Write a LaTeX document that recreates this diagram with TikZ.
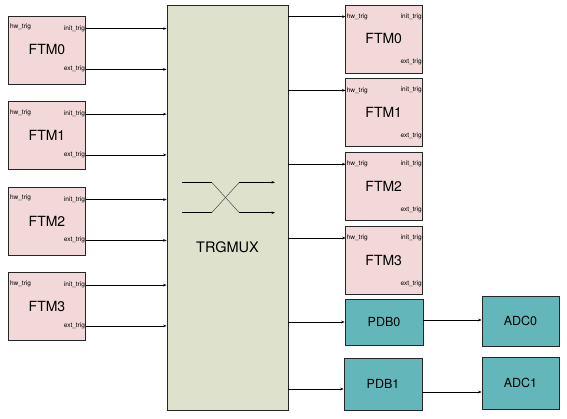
\documentclass[tikz,border=0pt]{standalone}
\usepackage{fontspec}
\setmainfont{TeX Gyre Heros}
\usepackage{xcolor}
\usetikzlibrary{arrows.meta, positioning}

\definecolor{ftmpink}{RGB}{242,216,216}
\definecolor{muxgreen}{RGB}{222,226,204}
\definecolor{pdbteal}{RGB}{99,182,185}

\begin{document}
\begin{tikzpicture}[
        x=1pt, y=-1pt,
        ftm/.style={
            draw=black!85,
            line width=0.8pt,
            fill=ftmpink,
            minimum width=77.5pt,
            minimum height=68pt,
            inner sep=0pt,
            font=\fontsize{14}{15}\selectfont
        },
        unit/.style={
            draw=black!85,
            line width=0.8pt,
            fill=pdbteal,
            minimum width=78pt,
            inner sep=0pt,
            font=\fontsize{12.5}{14}\selectfont
        },
        port/.style={inner sep=1pt, font=\fontsize{6.5}{7}\selectfont},
        arrow/.style={-{Stealth[length=3.5pt, width=2.6pt]}, line width=0.7pt}
    ]
        \useasboundingbox (0,0) rectangle (567,419);

        % trigger multiplexer
        \node[draw=black!85, line width=0.8pt, fill=muxgreen, minimum width=121pt, minimum height=405pt] (mux) at (227.5,207.5) {};
        \node[font=\fontsize{14.5}{16}\selectfont] (muxtext) at ([yshift=-39.5pt]mux.center) {TRGMUX};

        % source timers
        \node[ftm] (ftmL0) at (47,50) {FTM0};
        \node[ftm, below=16.7pt of ftmL0] (ftmL1) {FTM1};
        \node[ftm, below=16.7pt of ftmL1] (ftmL2) {FTM2};
        \node[ftm, below=16.7pt of ftmL2] (ftmL3) {FTM3};

        \node[port, anchor=west] (l0hw) at ([shift={(1pt,-11.5pt)}]ftmL0.north west) {hw\_trig};
        \node[port, anchor=east] (l0init) at ([shift={(0pt,-13pt)}]ftmL0.north east) {init\_trig};
        \node[port, anchor=east] (l0ext) at ([shift={(0pt,15pt)}]ftmL0.south east) {ext\_trig};
        \node[port, anchor=west] (l1hw) at ([shift={(1pt,-11.5pt)}]ftmL1.north west) {hw\_trig};
        \node[port, anchor=east] (l1init) at ([shift={(0pt,-13pt)}]ftmL1.north east) {init\_trig};
        \node[port, anchor=east] (l1ext) at ([shift={(0pt,15pt)}]ftmL1.south east) {ext\_trig};
        \node[port, anchor=west] (l2hw) at ([shift={(1pt,-11.5pt)}]ftmL2.north west) {hw\_trig};
        \node[port, anchor=east] (l2init) at ([shift={(0pt,-13pt)}]ftmL2.north east) {init\_trig};
        \node[port, anchor=east] (l2ext) at ([shift={(0pt,15pt)}]ftmL2.south east) {ext\_trig};
        \node[port, anchor=west] (l3hw) at ([shift={(1pt,-11.5pt)}]ftmL3.north west) {hw\_trig};
        \node[port, anchor=east] (l3init) at ([shift={(0pt,-13pt)}]ftmL3.north east) {init\_trig};
        \node[port, anchor=east] (l3ext) at ([shift={(0pt,15pt)}]ftmL3.south east) {ext\_trig};

        % target timers
        \node[ftm] (ftmR0) at (383.75,39) {FTM0};
        \node[ftm, below=5pt of ftmR0] (ftmR1) {FTM1};
        \node[ftm, below=5pt of ftmR1] (ftmR2) {FTM2};
        \node[ftm, below=5pt of ftmR2] (ftmR3) {FTM3};

        \node[port, anchor=west] (r0hw) at ([shift={(1pt,-12pt)}]ftmR0.north west) {hw\_trig};
        \node[port, anchor=east] (r0init) at ([shift={(0pt,-12pt)}]ftmR0.north east) {init\_trig};
        \node[port, anchor=east] (r0ext) at ([shift={(0pt,11pt)}]ftmR0.south east) {ext\_trig};
        \node[port, anchor=west] (r1hw) at ([shift={(1pt,-12pt)}]ftmR1.north west) {hw\_trig};
        \node[port, anchor=east] (r1init) at ([shift={(0pt,-12pt)}]ftmR1.north east) {init\_trig};
        \node[port, anchor=east] (r1ext) at ([shift={(0pt,11pt)}]ftmR1.south east) {ext\_trig};
        \node[port, anchor=west] (r2hw) at ([shift={(1pt,-12pt)}]ftmR2.north west) {hw\_trig};
        \node[port, anchor=east] (r2init) at ([shift={(0pt,-12pt)}]ftmR2.north east) {init\_trig};
        \node[port, anchor=east] (r2ext) at ([shift={(0pt,11pt)}]ftmR2.south east) {ext\_trig};
        \node[port, anchor=west] (r3hw) at ([shift={(1pt,-12pt)}]ftmR3.north west) {hw\_trig};
        \node[port, anchor=east] (r3init) at ([shift={(0pt,-12pt)}]ftmR3.north east) {init\_trig};
        \node[port, anchor=east] (r3ext) at ([shift={(0pt,11pt)}]ftmR3.south east) {ext\_trig};

        % PDB and ADC
        \node[unit, minimum height=46pt] (pdb0) at (384,322) {PDB0};
        \node[unit, minimum height=52pt] (pdb1) at (383,384) {PDB1};
        \node[unit, minimum height=50pt, minimum width=77pt] (adc0) at (520.5,321) {ADC0};
        \node[unit, minimum height=52pt, minimum width=77pt] (adc1) at (520.5,383) {ADC1};

        % crossing symbol
        \draw[line width=0.7pt] (182,182.3) -- (211.7,182.3);
        \draw[line width=0.7pt] (182,212.7) -- (211.7,212.7);
        \draw[black!70, line width=0.5pt] (211.7,182.3) -- (239.3,212.7);
        \draw[black!70, line width=0.5pt] (211.7,212.7) -- (239.3,182.3);
        \draw[arrow] (239.3,182.3) -- (275,182.3);
        \draw[arrow] (239.3,212.7) -- (275,212.7);

        % inputs
        \draw[arrow] (l0init.east) -- (l0init.east -| mux.west);
        \draw[arrow] (l0ext.east) -- (l0ext.east -| mux.west);
        \draw[arrow] (l1init.east) -- (l1init.east -| mux.west);
        \draw[arrow] (l1ext.east) -- (l1ext.east -| mux.west);
        \draw[arrow] (l2init.east) -- (l2init.east -| mux.west);
        \draw[arrow] (l2ext.east) -- (l2ext.east -| mux.west);
        \draw[arrow] (l3init.east) -- (l3init.east -| mux.west);
        \draw[arrow] (l3ext.east) -- (l3ext.east -| mux.west);

        % outputs
        \draw[arrow] (r0hw.west -| mux.east) -- (r0hw.west);
        \draw[arrow] (r1hw.west -| mux.east) -- (r1hw.west);
        \draw[arrow] (r2hw.west -| mux.east) -- (r2hw.west);
        \draw[arrow] (r3hw.west -| mux.east) -- (r3hw.west);
        \draw[arrow] (pdb0.west -| mux.east) -- (pdb0.west);
        \draw[arrow] ([yshift=-5pt]pdb1.west -| mux.east) -- ([yshift=-5pt]pdb1.west);
        \draw[arrow] ([yshift=2pt]pdb0.east) -- ([yshift=2pt]pdb0.east -| adc0.west);
        \draw[arrow] ([yshift=-8pt]pdb1.east) -- ([yshift=-8pt]pdb1.east -| adc1.west);
    \end{tikzpicture}
\end{document}
